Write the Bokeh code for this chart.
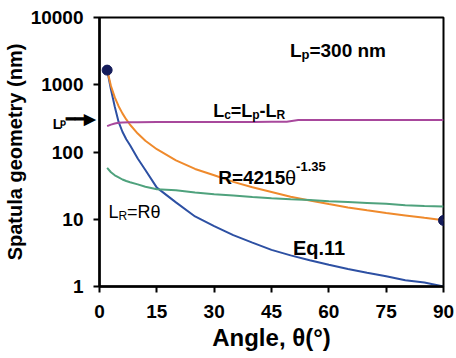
import math
from bokeh.plotting import figure
from bokeh.models import Label, FixedTicker, NumeralTickFormatter, Range1d
from bokeh.embed import file_html
from bokeh.resources import INLINE

# ---- data ----
theta = [2, 3, 4, 5, 6, 7, 8, 10, 12, 15, 20, 25, 30, 35, 40, 45, 50, 55, 60, 65, 70, 75, 80, 85, 90]
R_vals = [1654, 957, 649, 480, 375, 305, 254, 188, 147, 110, 75, 56, 45, 36, 30, 25.5, 21.6, 19.0, 16.8, 15.0, 13.6, 12.4, 11.4, 10.5, 9.7]
LR_vals = [58, 50, 45, 42, 39, 37, 35.5, 33, 30.5, 28, 27, 25, 23.5, 22.5, 21.5, 20.6, 19.8, 19.3, 18.5, 18.0, 17.5, 17.0, 16.2, 15.8, 15.5]
eq11_vals = [1650, 850, 470, 280, 200, 155, 126, 80, 54, 29.5, 17.8, 11, 7.9, 5.8, 4.5, 3.5, 2.9, 2.45, 2.1, 1.82, 1.6, 1.42, 1.24, 1.15, 1.0]
Lc_theta = [2, 3, 4, 5, 6, 8, 10, 15, 20, 25, 30, 35, 40, 45, 49, 52, 55, 60, 70, 80, 90]
Lc_vals = [242, 255, 265, 272, 275, 277, 278, 279, 279, 280, 280, 280, 280, 281, 282, 298, 299, 299, 300, 300, 300]
dot_theta = [2, 90]
dot_vals = [1650, 9.6]
x_ticks = [0, 15, 30, 45, 60, 75, 90]
y_ticks = [1, 10, 100, 1000, 10000]

ORANGE = "#EF8A2C"
BLUE = "#2D50A3"
GREEN = "#4FA27D"
MAGENTA = "#A8489C"
NAVY = "#151C5A"
FONT = "Liberation Sans"

W, H = 456, 358
L, R, T, B = 98, 13, 17, 72
FW = W - L - R
FH = H - T - B

p = figure(width=W, height=H, x_range=Range1d(0, 90), y_range=Range1d(1, 10000),
           y_axis_type="log", output_backend="svg", toolbar_location=None,
           min_border_left=L, min_border_right=R, min_border_top=T, min_border_bottom=B)
p.grid.visible = False
p.outline_line_color = "black"
p.outline_line_width = 2
p.background_fill_color = "white"
p.border_fill_color = "white"

for ax in (p.xaxis[0], p.yaxis[0]):
    ax.axis_line_width = 2.5
    ax.major_tick_line_width = 2
    ax.major_tick_out = 6
    ax.major_tick_in = 0
    ax.minor_tick_line_color = None
    ax.major_label_text_font = FONT
    ax.major_label_text_font_style = "bold"
    ax.major_label_text_font_size = "19px"
    ax.major_label_text_color = "black"
    ax.axis_label_text_font = FONT
    ax.axis_label_text_font_style = "bold"
    ax.axis_label_text_color = "black"
p.xaxis.ticker = FixedTicker(ticks=x_ticks)
p.yaxis.ticker = FixedTicker(ticks=y_ticks)
p.yaxis.formatter = NumeralTickFormatter(format="0")
p.xaxis.major_label_standoff = 12
p.yaxis.major_label_standoff = 10
p.xaxis.axis_label = "Angle, θ(°)"
p.xaxis.axis_label_text_font_size = "24px"
p.xaxis.axis_label_standoff = 3
p.yaxis.axis_label = "Spatula geometry (nm)"
p.yaxis.axis_label_text_font_size = "20px"
p.yaxis.axis_label_standoff = 2

p.line(theta, eq11_vals, color=BLUE, line_width=2)
p.line(theta, R_vals, color=ORANGE, line_width=2)
p.line(theta, LR_vals, color=GREEN, line_width=2)
p.line(Lc_theta, Lc_vals, color=MAGENTA, line_width=2)
p.scatter(dot_theta, dot_vals, size=10, color=NAVY)

# Arial/Liberation advance widths (1/1000 em)
BOLD_W = {"L": 611, "R": 722, "E": 667, "c": 556, "p": 611, "q": 611, "n": 611, "m": 889,
          "=": 584, "-": 333, ".": 278, " ": 278, "θ": 556}
NORM_W = {"L": 556, "R": 722, "=": 584, "θ": 556}
for d in "0123456789":
    BOLD_W[d] = 556
    NORM_W[d] = 556


def dx(px):
    return (px - L) / FW * 90.0


def dy(py):
    return 10 ** ((T + FH - py) / FH * 4.0)


def put(px, py, text, size, style="bold", place=None, baseline="alphabetic"):
    lab = Label(x=dx(px), y=dy(py), text=text, text_font=FONT,
                text_font_size=f"{size}px", text_font_style=style,
                text_color="black", text_baseline=baseline, text_align="left")
    if place:
        p.add_layout(lab, place)
    else:
        p.add_layout(lab)


def run(px, py, parts):
    """parts: (text, size, rise, style)"""
    x = px
    for text, size, rise, style in parts:
        put(x, py - rise, text, size, style)
        table = BOLD_W if style == "bold" else NORM_W
        x += sum(table.get(ch, 556) for ch in text) / 1000.0 * size


# L_p=300 nm
run(289, 50, [("L", 19, 0, "bold"), ("p", 13, -4, "bold"), ("=300 nm", 19, 0, "bold")])
# L_c = L_p - L_R
run(212, 110, [("L", 18, 0, "bold"), ("c", 12, -4, "bold"), ("=L", 18, 0, "bold"),
               ("p", 12, -4, "bold"), ("-L", 18, 0, "bold"), ("R", 12, -4, "bold")])
# R = 4215 theta^-1.35
run(217, 177, [("R=4215", 19, 0, "bold"), ("θ", 20, 0, "normal"), ("-1.35", 13, 11, "bold")])
# L_R = R theta
run(107, 211, [("L", 18, 0, "normal"), ("R", 12, -4, "normal"), ("=Rθ", 18, 0, "normal")])
# Eq.11
put(292, 247, "Eq.11", 20)

# "L_p ->" marker outside the frame on the left; each piece hosted in a side
# panel that has room to spare so the frame does not move
put(51, 123, "L", 14, place="right")
put(58, 118, "ₚ━━▶", 15, style="bold", place="above", baseline="middle")

open("out.html", "w").write(file_html(p, INLINE))
